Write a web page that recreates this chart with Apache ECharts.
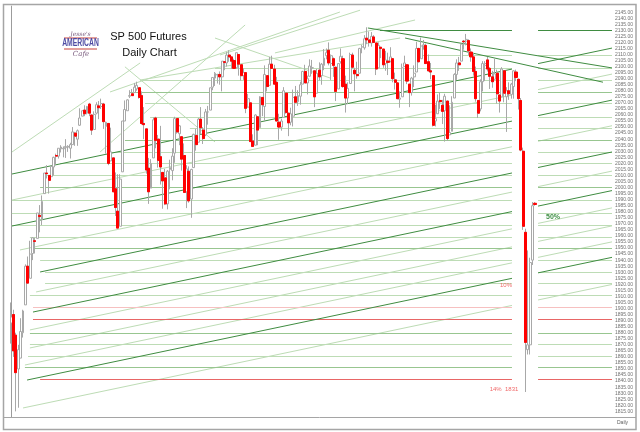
<!DOCTYPE html>
<html><head><meta charset="utf-8">
<script src="https://cdn.jsdelivr.net/npm/echarts@6/dist/echarts.min.js"></script>
<style>html,body{margin:0;padding:0;background:#fff}#c{width:640px;height:432px}</style>
</head><body><div id="c"></div>
<script>
// ---- data ----
const dates = (
 '14-10-13 14-10-14 14-10-15 14-10-16 14-10-17 14-10-20 14-10-21 14-10-22 14-10-23 14-10-24 14-10-27 14-10-28 14-10-29 14-10-30 14-10-31 ' +
 '14-11-03 14-11-04 14-11-05 14-11-06 14-11-07 14-11-10 14-11-11 14-11-12 14-11-13 14-11-14 14-11-17 14-11-18 14-11-19 14-11-20 14-11-21 14-11-24 14-11-25 14-11-26 14-11-28 ' +
 '14-12-01 14-12-02 14-12-03 14-12-04 14-12-05 14-12-08 14-12-09 14-12-10 14-12-11 14-12-12 14-12-15 14-12-16 14-12-17 14-12-18 14-12-19 14-12-22 14-12-23 14-12-24 14-12-26 14-12-29 14-12-30 14-12-31 ' +
 '15-01-02 15-01-05 15-01-06 15-01-07 15-01-08 15-01-09 15-01-12 15-01-13 15-01-14 15-01-15 15-01-16 15-01-20 15-01-21 15-01-22 15-01-23 15-01-26 15-01-27 15-01-28 15-01-29 15-01-30 ' +
 '15-02-02 15-02-03 15-02-04 15-02-05 15-02-06 15-02-09 15-02-10 15-02-11 15-02-12 15-02-13 15-02-17 15-02-18 15-02-19 15-02-20 15-02-23 15-02-24 15-02-25 15-02-26 15-02-27 ' +
 '15-03-02 15-03-03 15-03-04 15-03-05 15-03-06 15-03-09 15-03-10 15-03-11 15-03-12 15-03-13 15-03-16 15-03-17 15-03-18 15-03-19 15-03-20 15-03-23 15-03-24 15-03-25 15-03-26 15-03-27 15-03-30 15-03-31 ' +
 '15-04-01 15-04-02 15-04-06 15-04-07 15-04-08 15-04-09 15-04-10 15-04-13 15-04-14 15-04-15 15-04-16 15-04-17 15-04-20 15-04-21 15-04-22 15-04-23 15-04-24 15-04-27 15-04-28 15-04-29 15-04-30 ' +
 '15-05-01 15-05-04 15-05-05 15-05-06 15-05-07 15-05-08 15-05-11 15-05-12 15-05-13 15-05-14 15-05-15 15-05-18 15-05-19 15-05-20 15-05-21 15-05-22 15-05-26 15-05-27 15-05-28 15-05-29 ' +
 '15-06-01 15-06-02 15-06-03 15-06-04 15-06-05 15-06-08 15-06-09 15-06-10 15-06-11 15-06-12 15-06-15 15-06-16 15-06-17 15-06-18 15-06-19 15-06-22 15-06-23 15-06-24 15-06-25 15-06-26 15-06-29 15-06-30 ' +
 '15-07-01 15-07-02 15-07-06 15-07-07 15-07-08 15-07-09 15-07-10 15-07-13 15-07-14 15-07-15 15-07-16 15-07-17 15-07-20 15-07-21 15-07-22 15-07-23 15-07-24 15-07-27 15-07-28 15-07-29 15-07-30 15-07-31 ' +
 '15-08-03 15-08-04 15-08-05 15-08-06 15-08-07 15-08-10 15-08-11 15-08-12 15-08-13 15-08-14 15-08-17 15-08-18 15-08-19 15-08-20 15-08-21 15-08-24 15-08-25 15-08-26 15-08-27 15-08-28'
).split(' ');

const open = [1888,1895,1878,1850,1859,1880,1903,1935,1925,1945.5,1956,1958,1977,1973.5,1995,
2012,2010,2009,2017,2026.5,2026,2032,2032,2033,2033.5,2032.5,2035.5,2045,2040,2051.5,2059,2064,2061.5,2069,
2060,2048,2061.5,2067.5,2067,2069,2050.5,2053,2022,2024.5,1999,1980.5,1968,2013,2055,2063.5,2075.5,2077.5,2078.5,2081.5,2082.5,2076,
2053,2048.5,2016,1999.5,2024.5,2057.5,2040,2025.5,2012.5,2008,1986.5,2015,2014,2028.5,2057,2044.5,2042,2026.5,1996.5,2013.5,
1990.5,2016.5,2043,2037.5,2056.5,2047.5,2043.5,2062.5,2064,2083,2090.5,2093,2093.5,2091.5,2104,2103,2109.5,2108,2105,
2099,2110,2101.5,2092.5,2095,2066.5,2070,2038.5,2035,2058.5,2049.5,2074.5,2067,2092.5,2084.5,2102,2098,2087,2054,2050,2058,2078,
2061.5,2054,2059,2075,2071,2075.5,2085.5,2096,2086.5,2092,2099,2096.5,2078,2097,2092.5,2101,2109,2113.5,2102.5,2106.5,2099.5,
2081.5,2104,2106.5,2085.5,2074,2086,2109.5,2097,2093.5,2094.5,2116,2115.5,2123.5,2122,2119.5,2124.5,2119.5,2099,2116,2114.5,
2102.5,2104.5,2104.5,2106.5,2089,2086.5,2073,2075,2100,2101.5,2085.5,2078.5,2091.5,2095.5,2115,2106.5,2117,2117.5,2104,2096.5,2092.5,2055,
2061,2072,2068,2063.5,2071.5,2043.5,2046.5,2074,2093.5,2103,2104.5,2121,2121,2121.5,2112,2108,2096,2072,2065,2087.5,2101,2105.5,
2098.5,2091.5,2089.5,2094.5,2076.5,2075,2096.5,2075,2080,2077,2083.5,2095.5,2089.5,2072,2030,1963,1866,1870,1940,1987];

const high = [1905,1899,1880,1870,1892,1899,1936.5,1943,1956,1959,1958.5,1979,1985.5,1993.5,2012,
2018.5,2010,2018,2025.5,2028,2032.5,2035,2034,2040,2035,2037,2050,2046,2048,2065.5,2064,2068,2067.5,2070,
2060,2063,2070.5,2071.5,2073.5,2070,2054.5,2053,2049.5,2024.5,2012.5,2011,2011,2055,2072,2073,2080.5,2081.5,2086.5,2087.5,2082.5,2079.5,
2066.5,2048.5,2024.5,2023.5,2058,2058.5,2043.5,2051,2012.5,2015.5,2014.5,2023,2032.5,2058.5,2057,2051.5,2042,2036.5,2018.5,2017.5,
2015.5,2044.5,2048.5,2057.5,2066.5,2050,2065,2067.5,2082.5,2091,2095.5,2094,2096,2104.5,2104,2112,2113.5,2108,2106.5,
2111.5,2110,2101.5,2098.5,2095,2077.5,2070,2044,2060.5,2058.5,2075.5,2074.5,2101,2092.5,2108,2109,2101.5,2091.5,2061,2057,2083,2078,
2061.5,2066,2081,2084,2080.5,2087.5,2096.5,2101.5,2092.5,2106,2105.5,2096.5,2098,2103.5,2103,2114.5,2115,2120,2110,2107.5,2099.5,
2102.5,2115,2109,2092.5,2087,2111.5,2111.5,2099,2104,2115.5,2118,2126,2132.5,2129,2128.5,2126,2119.5,2120,2116,2114.5,
2113,2111.5,2116,2107,2095,2087,2079.5,2102.5,2109,2101.5,2085.5,2091.5,2101,2120.5,2115.5,2124,2122,2119,2110,2103,2092.5,2068.5,
2077,2079,2072.5,2077.5,2071.5,2068,2075.5,2094.5,2106,2108,2118.5,2122,2127,2122.5,2115,2111,2100,2072,2089.5,2104.5,2104.5,2108,
2099.5,2096.5,2106.5,2097.5,2076.5,2099.5,2096.5,2083,2087,2086.5,2097,2097.5,2090,2074,2033,1966,1948,1942,1988,1988];

const low = [1871,1860,1815,1818,1859,1876,1903,1921,1925,1940,1945.5,1958,1963,1969,1995,
2007.5,1995,2009,2010,2019,2024,2029,2025,2024.5,2029.5,2024,2035.5,2034.5,2034.5,2051,2059,2059,2060.5,2059,
2043.5,2048,2060.5,2056.5,2065,2048.5,2028,2018.5,2022,1996.5,1976.5,1966.5,1968,2013,2055,2063.5,2074,2076,2078.5,2080,2073.5,2052,
2040,2011.5,1986.5,1999.5,2024.5,2032.5,2016.5,2002.5,1982.5,1985.5,1982,1998.5,2006,2020.5,2044.5,2035,2014,1995.5,1983,1987.5,
1975,2016.5,2030.5,2037.5,2044,2036,2042.5,2052,2064,2080.5,2084,2086,2085,2079.5,2097,2100,2104,2098,2098,
2098.5,2092.5,2088.5,2089,2061.5,2066,2038,2033.5,2035,2035,2049.5,2059,2055,2079.5,2084.5,2098.5,2085.5,2055,2039.5,2047,2058,2061,
2042.5,2051.5,2050.5,2070,2067.5,2068.5,2085.5,2086.5,2077,2092,2094,2066.5,2078,2088.5,2085,2097,2106,2101,2089,2091.5,2071.5,
2081.5,2102.5,2082.5,2062,2069,2086,2098.5,2079.5,2090,2094.5,2111,2114,2118.5,2116.5,2116.5,2120,2093,2099,2107,2099,
2096.5,2093,2103.5,2087,2081,2073,2066,2075,2100,2085.5,2066.5,2076,2083,2095.5,2103.5,2106.5,2114,2102.5,2096,2089.5,2050.5,2050.5,
2061,2065,2052.5,2038,2038.5,2043.5,2046.5,2074,2089,2096.5,2104.5,2114,2117.5,2109.5,2104,2092.5,2071,2057.5,2063,2079.5,2088,2096,
2081.5,2082.5,2089.5,2069.5,2062,2075,2070.5,2046,2072.5,2073.5,2073.5,2088,2064.5,2030,1965,1831,1862,1862,1936,1985];

const close = [1893,1865,1847,1866,1881,1898,1935,1921,1945,1958.5,1955.5,1979,1976,1988.5,2012,
2011.5,2006,2017.5,2025,2026,2032.5,2033.5,2032.5,2034,2034,2035.5,2046,2042.5,2047,2057.5,2063.5,2061,2067,2061.5,
2047.5,2060.5,2068.5,2066,2069.5,2054.5,2054,2020,2029.5,1996.5,1983.5,1966.5,2007,2055,2064.5,2072.5,2076,2076,2083,2084.5,2074.5,2053,
2052,2014.5,1996.5,2020,2056,2039,2022.5,2017,2005.5,1986.5,2013.5,2016.5,2026,2057,2046,2051,2023.5,1996,2015.5,1989,
2015,2044,2035.5,2056.5,2049.5,2040.5,2062.5,2062.5,2082.5,2091,2094.5,2093.5,2091.5,2104.5,2103.5,2109.5,2108,2104.5,2098.5,
2111.5,2102,2092.5,2095,2065.5,2073.5,2038,2034,2060,2047.5,2075,2068.5,2093.5,2083.5,2102,2098.5,2085.5,2055,2050,2055,2080,2062,
2053.5,2061,2074.5,2070.5,2076,2085,2096,2086.5,2090,2100.5,2099,2075,2094.5,2091.5,2102,2107,2111.5,2103,2109,2101,2079.5,
2102.5,2108.5,2083.5,2074,2082,2110,2099.5,2094,2092.5,2115,2116.5,2123,2122,2120,2125,2120,2098,2117.5,2115,2101.5,
2105.5,2103.5,2108,2090,2087,2073.5,2074,2099,2103,2088,2078.5,2090.5,2094.5,2115,2104,2117,2118,2102.5,2096.5,2095.5,2051.5,2057,
2071.5,2071,2063,2075.5,2040.5,2045.5,2070.5,2093.5,2103,2101.5,2118.5,2120.5,2122.5,2113,2108,2096,2073.5,2061.5,2087.5,2102.5,2102.5,2098,
2092,2087.5,2094,2077.5,2071.5,2098,2078,2080,2077.5,2085.5,2096.5,2091,2073.5,2031,1968,1872,1870,1938,1985,1986];

const emptySlots = 32;           // blank bars on the right of the last candle
const yRange = [1810, 2150];     // price axis
const yStep = 5;                 // tick step of the price labels

// horizontal levels: [start bar, price, kind]
const levels = [
 [155.6,2130.3,'dark'],[172.5,2109.6,'light'],[86,2098.9,'light'],[54.4,2088.9,'light'],
 [50.1,2079.0,'mid'],[56.5,2069.9,'light'],[58.6,2058.3,'light'],[75.4,2049.2,'light'],
 [48,2039.3,'mid'],[41.7,2029.4,'light'],[20.6,2020.3,'light'],[14.3,2010.4,'light'],
 [12.2,2000.5,'mid'],[0.3,1989.7,'light'],[0.3,1979.0,'light'],[0.3,1969.1,'light'],
 [7.9,1959.1,'light'],[10,1950.0,'mid'],[12.2,1940.1,'light'],[14.3,1930.2,'light'],
 [14.3,1921.1,'light'],[7.9,1911.2,'light'],[9.2,1901.3,'pink'],[9.2,1891.3,'red'],
 [7.9,1879.8,'mid'],[7.9,1870.7,'light'],[7.1,1860.8,'light'],[5.8,1851.7,'mid'],
 [12.2,1841.7,'red']
];
// rising channel lines: [bar0, price0, bar1, price1, kind]
const channels = [
 [0.34,2011.2,253.5,2115.3,'dark'],[0.34,1989.7,253.5,2093.8,'light'],
 [0.34,1968.2,253.5,2072.3,'dark'],[3.7,1948.4,253.5,2051.1,'light'],
 [12.2,1930.2,253.5,2029.4,'dark'],[10.5,1913.7,253.5,2013.6,'light'],
 [9.2,1897.1,253.5,1997.5,'dark'],[7.9,1882.3,253.5,1983.2,'light'],
 [7.9,1867.4,253.5,1968.3,'light'],[5.8,1853.3,253.5,1955.1,'light'],
 [6.7,1840.9,253.5,1942.3,'dark'],[5.0,1817.8,253.5,1919.9,'light']
];
// other trend / fan lines: [bar0, price0, bar1, price1, kind]
const fanLines = [
 [150.5,2131.9,253.5,2098.9,'dark'],[166.2,2123.6,249.7,2087.1,'dark'],
 [0.34,2029.4,54.4,2103.0,'light'],[37.5,2029.4,98.7,2134.4,'light'],
 [48.0,2099.8,86.0,2037.7,'light'],[41.7,2079.0,138.7,2145.1,'light'],
 [88.1,2109.6,147.2,2146.6,'light'],[111.3,2111.3,170.4,2138.5,'light'],
 [86,2123.6,134.5,2090.6,'light'],[54.4,2088.9,164.1,2123.6,'light']
];

// ---- build ----
const cats = dates.concat(Array.from({length: emptySlots}, (_, k) => 'pad' + k));
const xEnd = cats.length - 0.5;
const gap = [211.3, 222.3];
const colors = {light:'#bddcb5', mid:'#98c690', dark:'#3f8c41', red:'#e86666', pink:'#f6c0c0'};

function split(i0, v0, i1, v1) {
  const f = i => v0 + (v1 - v0) * (i - i0) / (i1 - i0);
  const out = [];
  if (i0 < gap[0]) { const e = Math.min(i1, gap[0]); out.push([[i0, v0], [e, f(e)]]); }
  if (i1 > gap[1]) { const s = Math.max(i0, gap[1]); out.push([[s, f(s)], [i1, v1]]); }
  return out;
}
const byKind = {};
function add(kind, coords) { (byKind[kind] = byKind[kind] || []).push({coords}); }
levels.forEach(([s, v, k]) => split(s, v, xEnd, v).forEach(c => add(k, c)));
channels.forEach(([a, b, c, d, k]) => split(a, b, c, d).forEach(s => add(k, s)));
fanLines.forEach(([a, b, c, d, k]) => add(k, [[a, b], [c, d]]));

const order = ['light', 'pink', 'mid', 'red', 'dark'];
const lineSeries = order.filter(k => byKind[k]).map((k, n) => ({
  type: 'lines', coordinateSystem: 'cartesian2d', xAxisIndex: 1, yAxisIndex: 0,
  data: byKind[k], silent: true, z: 1 + n * 0.01, animation: false,
  lineStyle: {color: colors[k], width: 1, opacity: 1}
}));

const full = dates.map((d, i) => [open[i], close[i], low[i], high[i]]);
const bodies = dates.map((d, i) => close[i] < open[i] ? [open[i], close[i], close[i], open[i]] : '-');

const chart = echarts.init(document.getElementById('c'), null, {renderer: 'canvas'});
chart.setOption({
  animation: false,
  backgroundColor: '#fff',
  grid: {left: 10, right: 28, top: 6.1, bottom: 14.6},
  xAxis: [
    {type: 'category', data: cats, boundaryGap: true,
     axisLine: {show: false}, axisTick: {show: false}, axisLabel: {show: false}, splitLine: {show: false}},
    {type: 'value', min: -0.5, max: xEnd, show: false}
  ],
  yAxis: {
    type: 'value', position: 'right', min: yRange[0], max: yRange[1], interval: yStep,
    axisLine: {show: true, lineStyle: {color: '#9c9c9c', width: 1}},
    axisTick: {show: false}, splitLine: {show: false},
    axisLabel: {fontSize: 5, color: '#707070', margin: 3, fontFamily: 'Liberation Sans',
      formatter: v => (v >= yRange[1] || v <= yRange[0]) ? '' : v.toFixed(2)}
  },
  series: lineSeries.concat([
    {type: 'candlestick', xAxisIndex: 0, data: full, barWidth: 2.4, z: 3, silent: true,
     itemStyle: {color: '#ffffff', color0: '#ff0000', borderColor: '#a8a8a8', borderColor0: '#a8a8a8', borderWidth: 1}},
    {type: 'candlestick', xAxisIndex: 0, data: bodies, barWidth: 2.6, z: 4, silent: true,
     itemStyle: {color: '#ffffff', color0: '#ff0000', borderColor: '#a8a8a8', borderColor0: '#ff0000', borderWidth: 1}}
  ]),
  graphic: [
    {type: 'rect', shape: {x: 3.5, y: 4.5, width: 632.5, height: 425}, style: {fill: 'none', stroke: '#a5a5a5', lineWidth: 1.5}, z: 100},
    {type: 'line', shape: {x1: 3, y1: 417.5, x2: 636, y2: 417.5}, style: {stroke: '#a5a5a5', lineWidth: 1}, z: 100},
    {type: 'text', x: 148.5, y: 37, style: {text: 'SP 500 Futures', font: '11px "Liberation Sans"', fill: '#111', align: 'center', verticalAlign: 'middle'}, z: 100},
    {type: 'text', x: 149.5, y: 52.5, style: {text: 'Daily Chart', font: '11px "Liberation Sans"', fill: '#111', align: 'center', verticalAlign: 'middle'}, z: 100},
    {type: 'text', x: 80.5, y: 34.5, style: {text: "Jesse's", font: 'italic 6px "DejaVu Serif"', fill: '#7d5f80', align: 'center', verticalAlign: 'middle'}, z: 100},
    {type: 'line', shape: {x1: 64, y1: 38, x2: 97, y2: 38}, style: {stroke: '#c8413a', lineWidth: 1}, z: 100},
    {type: 'text', x: 80.5, y: 43.5, scaleX: 0.68, style: {text: 'AMERICAN', font: 'bold 10px "Liberation Sans"', fill: '#4d4ba3', align: 'center', verticalAlign: 'middle'}, z: 100},
    {type: 'line', shape: {x1: 64, y1: 49, x2: 97, y2: 49}, style: {stroke: '#c8413a', lineWidth: 1}, z: 100},
    {type: 'text', x: 81, y: 54, style: {text: 'Cafe', font: 'italic 7px "DejaVu Serif"', fill: '#7d5f80', align: 'center', verticalAlign: 'middle'}, z: 100},
    {type: 'text', x: 553, y: 217.5, style: {text: '50%', font: 'bold 7px "Liberation Sans"', fill: '#3f8f45', align: 'center', verticalAlign: 'middle'}, z: 100},
    {type: 'text', x: 506, y: 285, style: {text: '10%', font: '6px "Liberation Sans"', fill: '#f06a6a', align: 'center', verticalAlign: 'middle'}, z: 100},
    {type: 'text', x: 504, y: 389.5, style: {text: '14%  1831', font: '6px "Liberation Sans"', fill: '#f06a6a', align: 'center', verticalAlign: 'middle'}, z: 100},
    {type: 'text', x: 617, y: 423, style: {text: 'Daily', font: '5px "Liberation Sans"', fill: '#606060', align: 'left', verticalAlign: 'middle'}, z: 100}
  ]
});
</script></body></html>
